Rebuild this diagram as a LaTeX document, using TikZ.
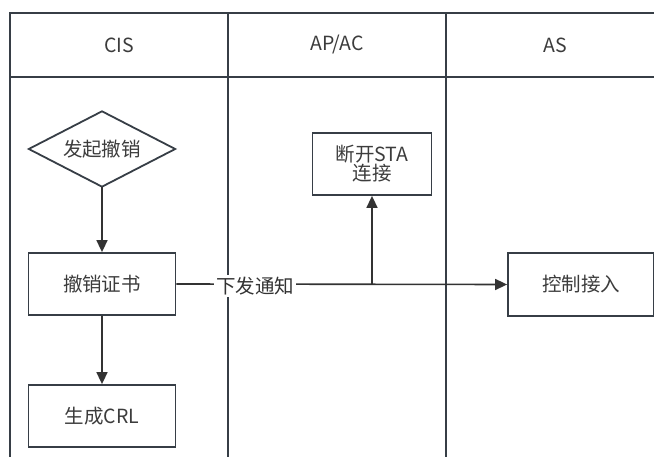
\documentclass[tikz,border=0pt]{standalone}
\usepackage{fontspec}
\setmainfont{Noto Sans CJK SC}
\usetikzlibrary{arrows.meta}
\definecolor{lane}{RGB}{55,62,70}
\definecolor{ink}{RGB}{51,51,51}
\definecolor{txt}{RGB}{60,60,60}
\tikzset{
  lanel/.style={draw=lane,line width=2.2pt},
  procbox/.style={draw=lane,line width=1.8pt,minimum width=147pt,minimum height=62pt,inner sep=0pt,font=\fontsize{19.5}{23}\selectfont,text=txt,align=center},
  conn/.style={draw=ink,line width=1.6pt,-{Triangle[length=12pt,width=11pt]}},
  hdr/.style={font=\fontsize{19.5}{23}\selectfont,text=txt}
}
\begin{document}
\begin{tikzpicture}[x=1pt,y=-1pt]
\useasboundingbox[fill=white] (0,0) rectangle (654,457);
% swimlanes
\draw[lanel] (10,457) -- (10,13) -- (654,13);
\draw[lanel] (10,77) -- (654,77);
\draw[lanel] (228,13) -- (228,457);
\draw[lanel] (446,13) -- (446,457);
\node[hdr] (h1) at (119,45) {CIS};
\node[hdr] (h2) at (337,45) {AP/AC};
\node[hdr] (h3) at (555,45) {AS};
% nodes
\node[minimum width=146pt,minimum height=75pt,inner sep=0pt,font=\fontsize{19.5}{23}\selectfont,text=txt] (d) at (102,149) {发起撤销};
\draw[draw=lane,line width=1.8pt] (d.north) -- (d.east) -- (d.south) -- (d.west) -- cycle;
\node[procbox] (r) at (102,284) {撤销证书};
\node[procbox] (c) at (102,416) {生成CRL};
\node[procbox,minimum width=119pt] (s) at (372,164) {断开STA\\[-4pt]连接};
\node[procbox,minimum width=146pt,minimum height=63pt] (a) at (581,284.5) {控制接入};
% connectors
\draw[conn] (d.south) -- (r.north);
\draw[conn] (r.south) -- (c.north);
\coordinate (j) at (372,284);
\draw[conn] (r.east) -- (a.west);
\draw[conn] (j) -- (s.south);
\node[fill=white,inner sep=2pt,font=\fontsize{19.5}{23}\selectfont,text=ink] (lbl) at (255,286) {下发通知};
\end{tikzpicture}
\end{document}
